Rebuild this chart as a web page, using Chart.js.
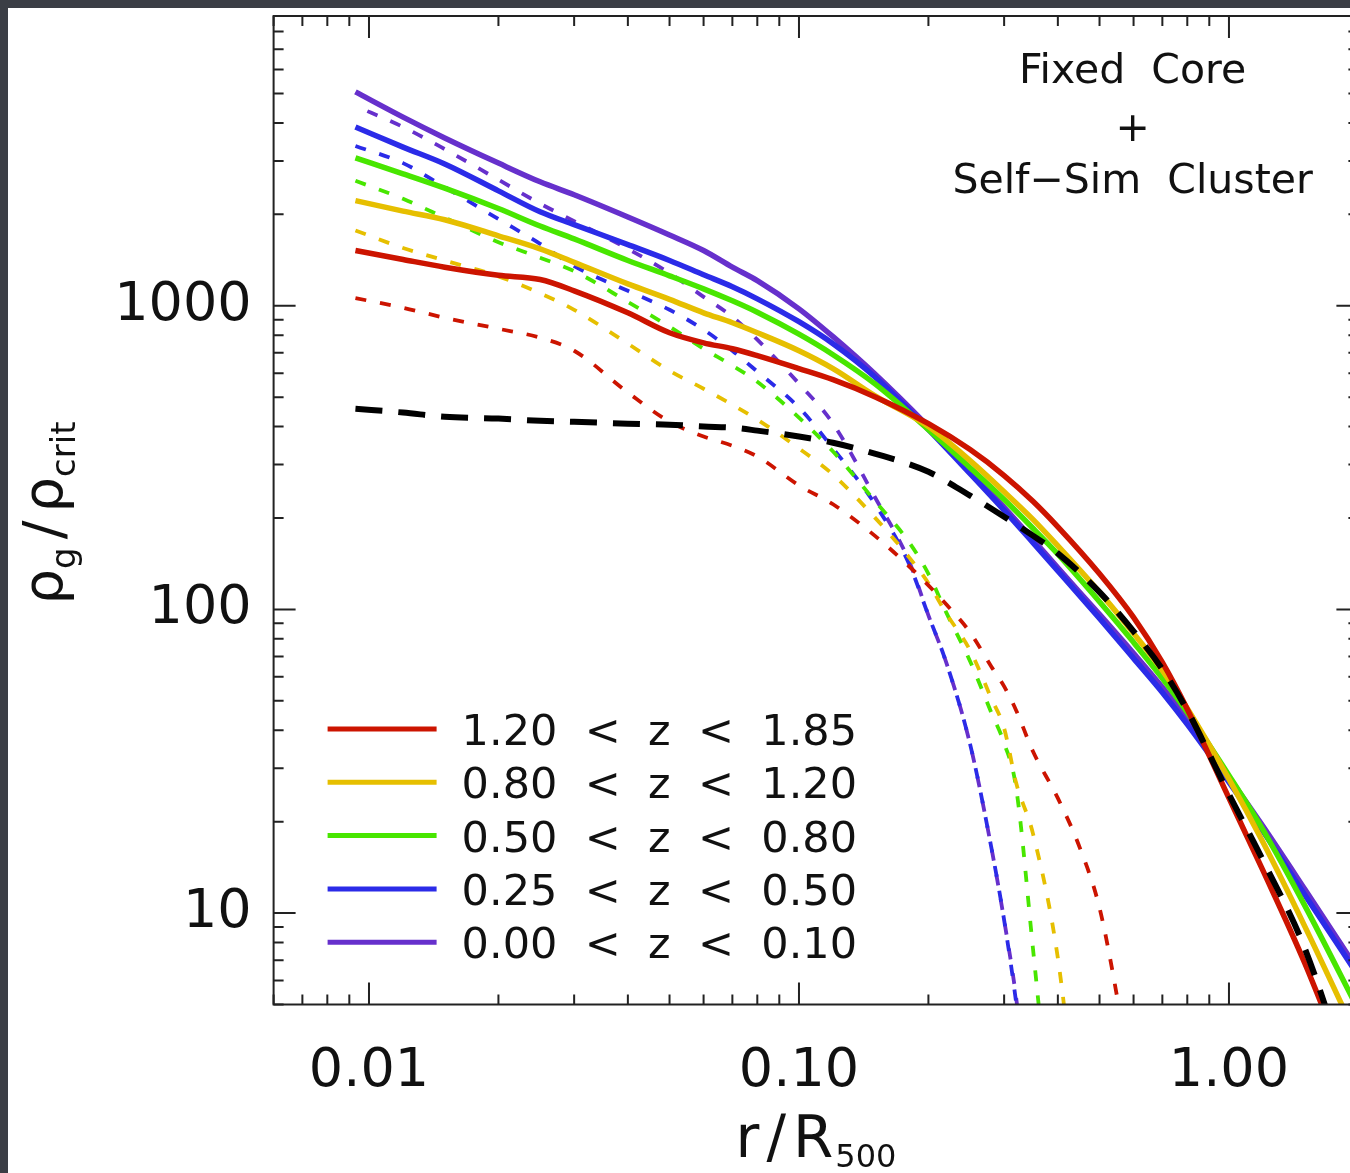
<!DOCTYPE html>
<html>
<head>
<meta charset="utf-8">
<script src="https://cdn.jsdelivr.net/npm/chart.js@4.4.1/dist/chart.umd.min.js"></script>
<style>
  html, body { margin: 0; padding: 0; background: #3b3e45; overflow: hidden; }
  #wrap { position: absolute; left: 8px; top: 8px; width: 1364px; height: 1165px; background: #fff; }
</style>
</head>
<body>
<div id="wrap"><canvas id="profile" width="1364" height="1165"></canvas></div>
<script>
const FONT = "'DejaVu Sans', sans-serif";

// r / R500 sample points
const radius = [0.0093, 0.012, 0.015, 0.02, 0.025, 0.03, 0.04, 0.05, 0.06, 0.07, 0.08, 0.1, 0.12, 0.15,
  0.2, 0.25, 0.3, 0.35, 0.4, 0.5, 0.6, 0.7, 0.8, 1.0, 1.2, 1.5, 2.0];
const radiusDash = [0.0093, 0.012, 0.015, 0.02, 0.025, 0.03, 0.04, 0.05, 0.06, 0.07, 0.08, 0.1, 0.12, 0.15,
  0.18, 0.2, 0.22, 0.25, 0.28, 0.3, 0.32, 0.35, 0.4, 0.45, 0.5, 0.55, 0.6];

// solid profiles (rho_g / rho_crit), one per redshift bin
const rhoRed    = [1520, 1420, 1340, 1260, 1220, 1120, 948, 815, 755, 722, 685, 621, 571, 502, 409, 336, 276, 227, 187, 131, 94.1, 66.9, 46.9, 23.9, 13.8, 6.85, 2.46];
const rhoYellow = [2220, 2050, 1920, 1700, 1540, 1390, 1180, 1050, 948, 879, 815, 711, 621, 506, 400, 309, 244, 198, 162, 114, 83.4, 63.0, 47.2, 27.6, 17.1, 9.06, 3.82];
const rhoGreen  = [3070, 2720, 2440, 2090, 1830, 1660, 1410, 1255, 1137, 1038, 952, 806, 690, 554, 391, 293, 230, 185, 152, 106, 77.9, 59.3, 45.8, 28.4, 18.8, 10.6, 4.80];
const rhoBlue   = [3880, 3330, 2930, 2390, 2040, 1850, 1590, 1410, 1265, 1155, 1054, 886, 750, 584, 391, 280, 212, 166, 134, 93.4, 69.0, 53.3, 41.8, 27.0, 18.6, 11.5, 6.21];
const rhoPurple = [5060, 4180, 3570, 2950, 2560, 2320, 1960, 1710, 1520, 1340, 1210, 977, 791, 597, 400, 287, 217, 170, 137, 96.3, 71.7, 55.4, 43.5, 28.0, 19.3, 12.0, 6.45];

// black dashed reference profile
const rhoModel  = [458, 445, 431, 425, 418, 415, 409, 406, 400, 397, 388, 371, 354, 326, 284, 237, 202, 175, 153, 114, 84.7, 63.5, 46.5, 24.6, 14.9, 7.67, 2.28];

// thin dashed profiles (on radiusDash)
const coreRed    = [1060, 985, 913, 840, 785, 711, 518, 415, 371, 346, 319, 256, 222, 175, 139, 120, 104, 84, 64.9, 55.8, 46.5, 34.1, 23.9, 16.4, 10.4, 5.25, 2.46];
const coreYellow = [1770, 1550, 1410, 1250, 1100, 970, 750, 611, 533, 472, 422, 339, 278, 201, 149, 122, 97, 73.3, 51, 40.6, 26.8, 18.3, 7.11, 1.69];
const coreGreen  = [2580, 2250, 1950, 1620, 1440, 1300, 1030, 853, 722, 635, 562, 428, 331, 228, 167, 131, 97.8, 67.5, 45.8, 36.3, 25.8, 7.67, 1.16];
const coreBlue   = [3360, 2950, 2460, 1930, 1600, 1350, 1120, 970, 834, 711, 607, 462, 339, 223, 142, 95.6, 66.9, 36, 16.5, 9.48, 5.06, 1.69];
const corePurple = [4550, 3880, 3280, 2600, 2170, 1900, 1540, 1280, 1070, 920, 773, 554, 409, 235, 145, 95.6, 66.9, 36, 16.5, 9.48, 5.25, 1.69];

const binLabels = ['1.20  <  z  <  1.85', '0.80  <  z  <  1.20', '0.50  <  z  <  0.80', '0.25  <  z  <  0.50', '0.00  <  z  <  0.10'];
const binColors = ['#cc1400', '#e6bf00', '#48e600', '#2b2be8', '#6630cc'];

const xTicks = [0.01, 0.1, 1];
const xTickLabels = ['0.01', '0.10', '1.00'];
const yTicks = [10, 100, 1000];
const yTickLabels = ['10', '100', '1000'];

function pts(xs, ys) {
  return ys.map((v, i) => ({ x: xs[i], y: v }));
}

const solidSets = [rhoRed, rhoYellow, rhoGreen, rhoBlue, rhoPurple];
const coreSets = [coreRed, coreYellow, coreGreen, coreBlue, corePurple];

const datasets = [{
  label: 'reference',
  data: pts(radius, rhoModel),
  borderColor: '#000',
  borderWidth: 6,
  borderDash: [27, 16],
}];
solidSets.forEach((s, i) => datasets.push({
  label: binLabels[i],
  data: pts(radius, s),
  borderColor: binColors[i],
  borderWidth: 5.5,
}));
coreSets.forEach((s, i) => datasets.push({
  label: binLabels[i] + ' core',
  data: pts(radiusDash, s),
  borderColor: binColors[i],
  borderWidth: 3.8,
  borderDash: [11, 14],
  borderDashOffset: i === 4 ? 12 : 0,  // purple interleaves with blue on the shared tail
}));

// draws text pieces in a row centred on (cx, y), used for the sub-scripted titles
function drawRuns(ctx, runs, cx, y) {
  let total = 0;
  runs.forEach(r => {
    ctx.font = r.size + 'px ' + FONT;
    r.w = ctx.measureText(r.t).width;
    total += r.w + 2 * (r.pad || 0);
  });
  let x = cx - total / 2;
  runs.forEach(r => {
    ctx.font = r.size + 'px ' + FONT;
    x += r.pad || 0;
    ctx.fillText(r.t, x, y + (r.dy || 0));
    x += r.w + (r.pad || 0);
  });
}

function logTicks(min, max) {
  const out = [];
  for (let e = Math.floor(Math.log10(min)); e <= Math.ceil(Math.log10(max)); e++) {
    for (let m = 1; m <= 9; m++) {
      const v = m * Math.pow(10, e);
      if (v >= min * 0.999 && v <= max * 1.001) out.push({ v, major: m === 1 });
    }
  }
  return out;
}

function noPadding(s) {
  s.paddingTop = 0;
  s.paddingBottom = 0;
  s.paddingLeft = 0;
  s.paddingRight = 0;
}

const decorations = {
  id: 'decorations',
  afterDraw(chart) {
    const { ctx, chartArea: a, scales: { x, y } } = chart;
    ctx.save();

    // box + inward ticks on all four sides
    ctx.strokeStyle = '#222';
    ctx.lineWidth = 2;
    ctx.strokeRect(a.left, a.top, a.right - a.left, a.bottom - a.top);
    ctx.beginPath();
    logTicks(x.min, x.max).forEach(t => {
      const px = x.getPixelForValue(t.v), len = t.major ? 22 : 10;
      ctx.moveTo(px, a.bottom); ctx.lineTo(px, a.bottom - len);
      ctx.moveTo(px, a.top); ctx.lineTo(px, a.top + len);
    });
    logTicks(y.min, y.max).forEach(t => {
      const py = y.getPixelForValue(t.v), len = t.major ? 22 : 10;
      ctx.moveTo(a.left, py); ctx.lineTo(a.left + len, py);
      ctx.moveTo(a.right, py); ctx.lineTo(a.right - len, py);
    });
    ctx.stroke();

    // legend
    ctx.fillStyle = '#111';
    ctx.textAlign = 'left';
    ctx.textBaseline = 'alphabetic';
    ctx.font = '43px ' + FONT;
    binLabels.forEach((label, i) => {
      const ly = a.top + 713 + i * 53.3;
      ctx.strokeStyle = binColors[i];
      ctx.lineWidth = 5;
      ctx.beginPath();
      ctx.moveTo(a.left + 54, ly);
      ctx.lineTo(a.left + 163, ly);
      ctx.stroke();
      ctx.fillText(label, a.left + 188, ly + 16);
    });

    // annotation
    ctx.textAlign = 'center';
    ctx.font = '41px ' + FONT;
    const cx = a.left + 859;
    ctx.fillText('Fixed  Core', cx, a.top + 67);
    ctx.fillText('+', cx, a.top + 125);
    ctx.fillText('Self\u2212Sim  Cluster', cx, a.top + 177);

    // axis titles
    ctx.textAlign = 'left';
    drawRuns(ctx, [
      { t: 'r', size: 58 },
      { t: '/', size: 58, pad: 7 },
      { t: 'R', size: 58 },
      { t: '500', size: 32, dy: 10, pad: 2 },
    ], (a.left + a.right) / 2 + 1, a.bottom + 152.5);

    ctx.translate(a.left - 211.6, a.top + 497);
    ctx.rotate(-Math.PI / 2);
    drawRuns(ctx, [
      { t: '\u03c1', size: 56 },
      { t: 'g', size: 34, dy: 13 },
      { t: '/', size: 56, pad: 8 },
      { t: '\u03c1', size: 56 },
      { t: 'crit', size: 34, dy: 13 },
    ], 0, 0);

    ctx.restore();
  }
};

new Chart(document.getElementById('profile'), {
  type: 'line',
  data: { datasets },
  options: {
    responsive: false,
    animation: false,
    devicePixelRatio: 1,
    layout: { padding: { left: 65.6, right: 13.6, top: 8, bottom: 68.5 } },
    elements: {
      point: { radius: 0 },
      line: { tension: 0, cubicInterpolationMode: 'monotone', fill: false, borderCapStyle: 'butt', borderJoinStyle: 'round' },
    },
    datasets: { line: { clip: 0 } },
    plugins: { legend: { display: false }, tooltip: { enabled: false }, title: { display: false } },
    scales: {
      x: {
        type: 'logarithmic',
        min: 0.006,
        max: 2,
        grid: { display: false, drawTicks: false },
        border: { display: false },
        afterBuildTicks: s => { s.ticks = xTicks.map(v => ({ value: v })); },
        afterFit: s => { s.height = 100; noPadding(s); },
        ticks: {
          autoSkip: false,
          maxRotation: 0,
          padding: 35,
          color: '#111',
          font: { family: 'DejaVu Sans', size: 54 },
          callback: (v, i) => xTickLabels[i],
        },
      },
      y: {
        type: 'logarithmic',
        min: 5,
        max: 9000,
        grid: { display: false, drawTicks: false },
        border: { display: false },
        afterBuildTicks: s => { s.ticks = yTicks.map(v => ({ value: v })); },
        afterFit: s => { s.width = 200; noPadding(s); },
        ticks: {
          autoSkip: false,
          padding: 22,
          color: '#111',
          font: { family: 'DejaVu Sans', size: 54 },
          callback: (v, i) => yTickLabels[i],
        },
      },
    },
  },
  plugins: [decorations],
});
</script>
</body>
</html>
